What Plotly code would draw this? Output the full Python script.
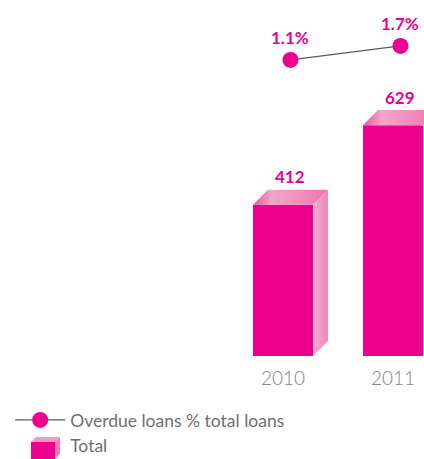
import plotly.graph_objects as go

years = [2010, 2011]
totals = [412, 629]
overdue_pct = [1.1, 1.7]
total_labels = ["412", "629"]
pct_labels = ["1.1%", "1.7%"]
tick_labels = ["2010", "2011"]

MAGENTA = "#EC008C"
GRAY_TXT = "#6f6f72"
W, H = 424, 459
PLOT_BOTTOM = 356  # px from top where the plot area ends
bar_w = 0.545
depth_x = 0.136
depth_y = 41

fig = go.Figure()
fig.add_trace(go.Bar(
    x=years, y=totals, width=bar_w, name="Total", showlegend=False,
    marker=dict(color=MAGENTA, line=dict(width=0)), hoverinfo="skip",
))
for yr, v in zip(years, totals):
    x0 = yr - bar_w / 2
    x1 = yr + bar_w / 2
    fig.add_trace(go.Scatter(
        x=[x1, x1 + depth_x, x1 + depth_x, x1, x1],
        y=[0, depth_y, v + depth_y, v, 0],
        fill="toself", mode="none", showlegend=False, hoverinfo="skip",
        fillgradient=dict(type="horizontal",
                          colorscale=[[0, "#F5AFD2"], [1, "#EF84BA"]]),
    ))
    fig.add_trace(go.Scatter(
        x=[x0, x0 + depth_x, x1 + depth_x, x1, x0],
        y=[v, v + depth_y, v + depth_y, v, v],
        fill="toself", mode="none", showlegend=False, hoverinfo="skip",
        fillgradient=dict(type="horizontal",
                          colorscale=[[0, "#E9519F"], [0.25, "#F3A6CB"], [1, "#EE74B3"]]),
    ))

fig.add_trace(go.Scatter(
    x=[y + depth_x / 2 for y in years], y=overdue_pct, yaxis="y2",
    mode="lines+markers", name="Overdue loans % total loans", legendrank=1,
    line=dict(color="#5a5a5a", width=1.2),
    marker=dict(size=16, color=MAGENTA), hoverinfo="skip",
))
# legend entry for the bars (symbol drawn as a small 3D box below)
fig.add_trace(go.Scatter(
    x=[None], y=[None], mode="markers", name="Total", legendrank=2,
    marker=dict(symbol="square", size=18, color="rgba(0,0,0,0)"), hoverinfo="skip",
))

for yr, v, t in zip(years, totals, total_labels):
    fig.add_annotation(x=yr + depth_x / 2, y=v, yref="y", text="<b>%s</b>" % t,
                       showarrow=False, yshift=28,
                       font=dict(family="Lato", size=17, color=MAGENTA))
for yr, p, t in zip(years, overdue_pct, pct_labels):
    fig.add_annotation(x=yr + depth_x / 2, y=p, yref="y2", text="<b>%s</b>" % t,
                       showarrow=False, yshift=22,
                       font=dict(family="Lato", size=17, color=MAGENTA))


# small 3D box legend symbol (paper coordinates derived from pixel layout)
def px(xp):
    return xp / W


def py(yp):
    return (PLOT_BOTTOM - yp) / PLOT_BOTTOM


def poly(points):
    return "M " + " L ".join("%f,%f" % (px(a), py(b)) for a, b in points) + " Z"


lx0, lx1, ly0, ly1, d = 31, 55, 442, 459, 5
fig.add_shape(type="path", xref="paper", yref="paper", line_width=0,
              fillcolor="#F07DB8",
              path=poly([(lx1, ly0), (lx1 + d, ly0 - d), (lx1 + d, ly1 - d), (lx1, ly1)]))
fig.add_shape(type="path", xref="paper", yref="paper", line_width=0,
              fillcolor="#F39BC8",
              path=poly([(lx0, ly0), (lx0 + d, ly0 - d), (lx1 + d, ly0 - d), (lx1, ly0)]))
fig.add_shape(type="rect", xref="paper", yref="paper", line_width=0,
              fillcolor=MAGENTA, x0=px(lx0), x1=px(lx1), y0=py(ly1), y1=py(ly0))

fig.update_layout(
    width=W, height=H,
    margin=dict(l=0, r=0, t=0, b=H - PLOT_BOTTOM, autoexpand=False),
    paper_bgcolor="white", plot_bgcolor="white",
    showlegend=True,
    xaxis=dict(range=[2010 - 283 / 110, 2010 + 141 / 110], tickvals=years,
               ticktext=tick_labels, showgrid=False, zeroline=False, showline=False,
               ticks="", ticklabelstandoff=9, automargin=False,
               tickfont=dict(family="Lato", size=19, color="#858585", weight=300)),
    yaxis=dict(range=[0, 970], visible=False),
    yaxis2=dict(range=[-11.59, 3.67], overlaying="y", visible=False),
    legend=dict(x=0.024, y=(H - 402) / H, yref="container", xanchor="left", yanchor="top",
                font=dict(family="Lato", size=17.5, color=GRAY_TXT),
                bgcolor="rgba(0,0,0,0)", itemwidth=50),
)

fig.write_html("out.html", config={"displayModeBar": False},
               post_script="document.body.style.margin='0';")
